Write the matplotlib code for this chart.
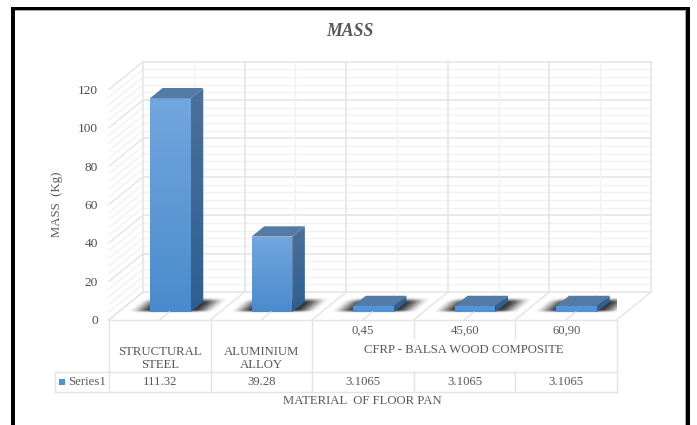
"""
Draw the floor pan mass comparison as an oblique 3D column chart with data table.
"""

import numpy as np
import matplotlib
matplotlib.use("Agg")
import matplotlib.pyplot as plt
from matplotlib.colors import LinearSegmentedColormap
from matplotlib.patches import Polygon, Rectangle


materials = ["STRUCTURAL\nSTEEL", "ALUMINIUM\nALLOY", "", "", ""]
layups = ["", "", "0,45", "45,60", "60,90"]
group_label = "CFRP - BALSA WOOD COMPOSITE"
mass_values = [111.32, 39.28, 3.1065, 3.1065, 3.1065]
mass_labels = ["111.32", "39.28", "3.1065", "3.1065", "3.1065"]
y_ticks = [0, 20, 40, 60, 80, 100, 120]
series_name = "Series1"

# Oblique projection: one unit of depth moves this far in x and y
DEPTH_X = 0.335
DEPTH_Y = 14.4
BAR_FRONT = 0.278
BAR_BACK = 0.65

TEXT_COLOR = "#595959"
MAJOR_GRID = "#e4e4e4"
MINOR_GRID = "#f2f2f2"
TEXT_SIZE = 9.2
FIG_W = 697
FIG_H = 425


def project(x, value, depth):
	"""
	Return the drawing position of a point on the oblique chart.
	"""
	return x + depth * DEPTH_X, value + depth * DEPTH_Y


def gradient_patch(ax, points, top_color, bottom_color, zorder):
	"""
	Fill the polygon points with a vertical gradient.
	"""
	points = np.array(points)
	cmap = LinearSegmentedColormap.from_list("face", [bottom_color, top_color])
	image = ax.imshow(
		np.linspace(0, 1, 128)[:, None],
		cmap=cmap,
		origin="lower",
		aspect="auto",
		interpolation="bilinear",
		extent=[
			points[:, 0].min(), points[:, 0].max(),
			points[:, 1].min(), points[:, 1].max()
		],
		zorder=zorder
	)
	image.set_clip_path(Polygon(points, transform=ax.transData))


def soft_step(t):
	t = np.clip(t, 0, 1)
	return t * t * (3 - 2 * t)


def floor_shadow(ax, x0, x1):
	"""
	Draw the blurred shadow lying on the floor around a column base.
	"""
	left = x0 - 0.28
	right = x1 + 0.55
	xs = np.linspace(left, right, 200)
	ys = np.linspace(2, 13, 80)
	grid_x, grid_y = np.meshgrid(xs, ys)
	depth = grid_y / DEPTH_Y
	across = grid_x - depth * DEPTH_X
	alpha = (
		soft_step((across - (x0 - 0.24)) / 0.24)
		* soft_step(((x1 + 0.24) - across) / 0.24)
		* soft_step((depth - 0.24) / 0.12)
		* soft_step((0.8 - depth) / 0.2)
	)
	rgba = np.zeros(alpha.shape + (4,))
	rgba[..., :3] = 0.2
	rgba[..., 3] = alpha
	ax.imshow(
		rgba,
		origin="lower",
		aspect="auto",
		interpolation="bilinear",
		extent=[left, right, 2, 13],
		zorder=2
	)


def draw_walls(ax, count):
	"""
	Draw the back wall, side wall and floor gridlines.
	"""
	top = y_ticks[-1]
	for value in np.arange(0, top + 1, 4):
		major = value % 20 == 0
		color = MAJOR_GRID if major else MINOR_GRID
		# side wall, then back wall
		x_side, y_side = project(np.array([0, 0]), value, np.array([0, 1]))
		ax.plot(x_side, y_side, color=color, lw=1, zorder=1)
		x_back, y_back = project(np.array([0, count]), value, 1)
		ax.plot(x_back, [y_back, y_back], color=color, lw=1.1 if major else 1, zorder=1)
	for x in np.arange(0, count + 0.5, 0.5):
		major = x % 1 == 0
		color = MAJOR_GRID if major else MINOR_GRID
		x_back, y_back = project(x, np.array([0, top]), 1)
		ax.plot([x_back, x_back], y_back, color=color, lw=1.1 if major else 1, zorder=1)
		x_floor, y_floor = project(np.array([x, x]), 0, np.array([0, 1]))
		ax.plot(x_floor, y_floor, color=color, lw=1, zorder=1)
		if not major:
			# the centre line stays visible in front of each column
			x_floor, y_floor = project(np.array([x, x]), 0, np.array([0, BAR_FRONT]))
			ax.plot(x_floor, y_floor, color=MAJOR_GRID, lw=1, zorder=5)


def draw_column(ax, i, value):
	"""
	Draw one column with its three visible faces.
	"""
	x0 = i + 0.31
	x1 = i + 0.71
	floor_shadow(ax, x0, x1)
	fl = project(x0, 0, BAR_FRONT)
	fr = project(x1, 0, BAR_FRONT)
	br = project(x1, 0, BAR_BACK)
	tfl = project(x0, value, BAR_FRONT)
	tfr = project(x1, value, BAR_FRONT)
	tbr = project(x1, value, BAR_BACK)
	tbl = project(x0, value, BAR_BACK)
	tall = value > 10
	gradient_patch(
		ax, [fl, fr, tfr, tfl],
		"#72a6de" if tall else "#5497dd", "#4a8bcd" if tall else "#4f90d6", 3
	)
	gradient_patch(
		ax, [fr, br, tbr, tfr],
		"#4b7199" if tall else "#2f6296", "#2d5f92", 3
	)
	ax.add_patch(Polygon([tfl, tfr, tbr, tbl], facecolor="#547aa6", edgecolor="none", zorder=4))


def draw_table(ax, count):
	"""
	Draw the data table under the columns, with its category labels and values.
	"""
	row_top = 0
	row_mid = -27.4
	row_bottom = -37.6
	layer_bottom = -9.5
	cell_left = -0.531
	text_args = {"color": TEXT_COLOR, "fontsize": TEXT_SIZE, "ha": "center", "va": "center"}
	line_args = {"color": MAJOR_GRID, "lw": 1, "zorder": 1, "clip_on": False}
	ax.plot([0, count], [row_top, row_top], **line_args)
	ax.plot([cell_left, count], [row_mid, row_mid], **line_args)
	ax.plot([cell_left, count], [row_bottom, row_bottom], **line_args)
	ax.plot([cell_left, cell_left], [row_mid, row_bottom], **line_args)
	for x in range(count + 1):
		# the composite group only splits in its top layer
		upper = layer_bottom if x in (3, 4) else row_mid
		ax.plot([x, x], [row_top, upper], **line_args)
		ax.plot([x, x], [row_mid, row_bottom], **line_args)
	for i in range(count):
		if materials[i]:
			ax.text(i + 0.5, -20.1, materials[i], linespacing=1.08, clip_on=False, **text_args)
		if layups[i]:
			ax.text(i + 0.5, -5.9, layups[i], clip_on=False, **text_args)
		ax.text(i + 0.5, -32.4, mass_labels[i], clip_on=False, **text_args)
	ax.text(3.49, -15.8, group_label, clip_on=False, **text_args)
	ax.add_patch(Rectangle(
		(-0.492, -34), 0.062, 3.2, facecolor="#4f90d6", edgecolor="none", clip_on=False
	))
	ax.text(
		-0.405, -32.4, series_name, color=TEXT_COLOR, fontsize=TEXT_SIZE,
		ha="left", va="center", clip_on=False
	)


def draw_frame(fig):
	"""
	Draw the heavy border; it is open along the bottom of the figure.
	"""
	bars = [
		(11, 7, 679, 3, "black"),
		(11, 7, 4, FIG_H - 7, "black"),
		(686, 7, 4, FIG_H - 7, "black"),
		(15, 10, 671, 1, "#a8a8a8"),
		(685, 10, 1, FIG_H - 10, "#a8a8a8"),
	]
	for x, y, w, h, color in bars:
		fig.add_artist(Rectangle(
			(x / FIG_W, 1 - (y + h) / FIG_H), w / FIG_W, h / FIG_H,
			facecolor=color, edgecolor="none", transform=fig.transFigure
		))


def main():
	plt.rcParams["font.family"] = ["Liberation Serif", "DejaVu Serif"]
	fig = plt.figure(figsize=(FIG_W / 100, FIG_H / 100), dpi=100, facecolor="white")
	# The axes box is the front plane of the chart: x = 0..5, y = 0..120
	ax = fig.add_axes([109 / FIG_W, 1 - 319.7 / FIG_H, 508 / FIG_W, 230.4 / FIG_H])
	ax.patch.set_alpha(0)
	for spine in ax.spines.values():
		spine.set_visible(False)

	count = len(mass_values)
	draw_walls(ax, count)
	for i, value in enumerate(mass_values):
		draw_column(ax, i, value)
	draw_table(ax, count)

	ax.set_xlim(0, count)
	ax.set_ylim(0, y_ticks[-1])
	ax.set_xticks([])
	ax.set_yticks(y_ticks)
	ax.tick_params(axis="y", length=0, pad=8, labelsize=9.6, labelcolor="#4d4d4d")
	# Walls extend past the front plane, so only the image faces keep their clip
	for artist in ax.lines + ax.patches:
		artist.set_clip_on(False)

	fig.text(
		350 / FIG_W, 1 - 31 / FIG_H, "MASS", color=TEXT_COLOR, fontsize=12.8,
		fontweight="bold", fontstyle="italic", ha="center", va="center"
	)
	fig.text(
		57 / FIG_W, 1 - 204 / FIG_H, "MASS  (Kg)", color=TEXT_COLOR, fontsize=TEXT_SIZE,
		rotation=90, ha="center", va="center"
	)
	fig.text(
		362 / FIG_W, 1 - 401 / FIG_H, "MATERIAL  OF FLOOR PAN", color=TEXT_COLOR,
		fontsize=TEXT_SIZE, ha="center", va="center"
	)
	draw_frame(fig)
	fig.savefig("out.png", dpi=100)


if __name__ == "__main__":
	main()
